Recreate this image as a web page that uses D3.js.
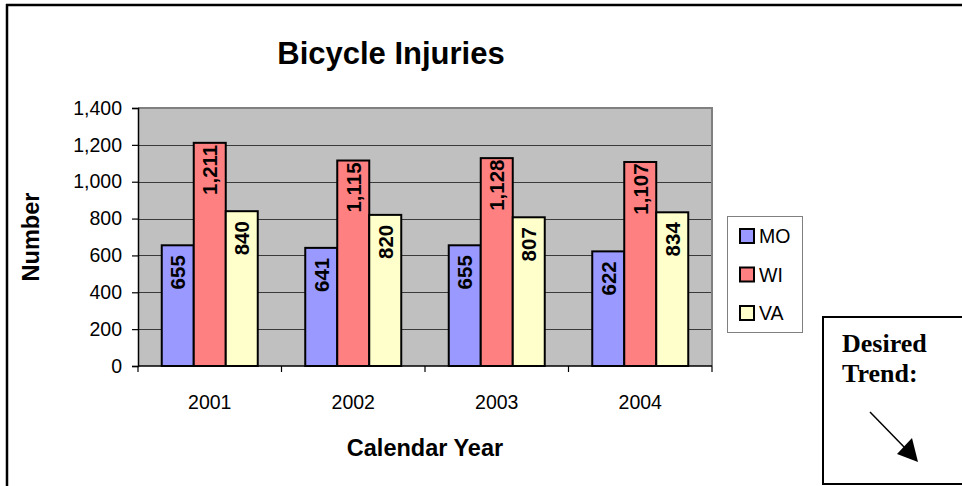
<!DOCTYPE html>
<html><head><meta charset="utf-8">
<script src="https://cdn.jsdelivr.net/npm/d3@7"></script>
<style>
html,body{margin:0;padding:0;background:#fff;}
svg{display:block;font-family:"Liberation Sans",Arial,sans-serif;}
.serif{font-family:"Liberation Serif","Times New Roman",serif;}
</style></head>
<body>
<svg id="chart" width="962" height="486"></svg>
<script>
const categories = ["2001","2002","2003","2004"];
const seriesNames = ["MO","WI","VA"];
const moValues = [655,641,655,622];
const wiValues = [1211,1115,1128,1107];
const vaValues = [840,820,807,834];
const yTicks = [0,200,400,600,800,1000,1200,1400];
const colors = ["#9999FF","#FF8080","#FFFFCC"];
const seriesValues = [moValues, wiValues, vaValues];

const svg = d3.select("#chart");
const plot = {left:138, right:712, top:108, bottom:366};

const x = d3.scaleBand().domain(categories).range([plot.left, plot.right]).paddingInner(0.331).paddingOuter(0.1655);
const xAll = d3.scaleBand().domain(categories).range([plot.left, plot.right]).padding(0);
const xs = d3.scaleBand().domain(seriesNames).range([0, x.bandwidth()]);
const y = d3.scaleLinear().domain([0,1400]).range([plot.bottom, plot.top]);

// outer frame lines
svg.append("line").attr("x1",6).attr("x2",962).attr("y1",5).attr("y2",5).attr("stroke","#000").attr("stroke-width",2.5);
svg.append("line").attr("x1",7).attr("x2",7).attr("y1",4).attr("y2",486).attr("stroke","#000").attr("stroke-width",2.5);

// plot area background
svg.append("rect").attr("x",plot.left).attr("y",plot.top).attr("width",plot.right-plot.left).attr("height",plot.bottom-plot.top).attr("fill","#C0C0C0");

// gridlines
svg.append("g").selectAll("line").data(yTicks.filter(d=>d>0 && d<1400)).join("line")
  .attr("x1",plot.left).attr("x2",plot.right).attr("y1",d=>Math.round(y(d))+0.5).attr("y2",d=>Math.round(y(d))+0.5)
  .attr("stroke","#3a3a3a").attr("stroke-width",1);

// plot border top/right (gray)
svg.append("path").attr("d",`M${plot.left},${plot.top}H${plot.right}V${plot.bottom}`).attr("fill","none").attr("stroke","#808080").attr("stroke-width",2);

// bars
const groups = svg.append("g").selectAll("g").data(categories).join("g")
  .attr("transform",d=>`translate(${x(d)},0)`);
groups.selectAll("rect").data((c,i)=>seriesNames.map((s,j)=>({s,j,v:seriesValues[j][i]}))).join("rect")
  .attr("x",d=>xs(d.s)).attr("width",xs.bandwidth())
  .attr("y",d=>y(d.v)).attr("height",d=>y(0)-y(d.v))
  .attr("fill",d=>colors[d.j]).attr("stroke","#000").attr("stroke-width",2);
groups.selectAll("text").data((c,i)=>seriesNames.map((s,j)=>({s,j,v:seriesValues[j][i]}))).join("text")
  .attr("transform",d=>`translate(${xs(d.s)+xs.bandwidth()/2},${y(d.v)+27}) rotate(-90)`)
  .attr("text-anchor","middle").attr("dominant-baseline","central")
  .attr("font-weight","bold").attr("font-size",20.5).attr("fill","#000")
  .text(d=>d3.format(",")(d.v));

// y axis
const yAxis = svg.append("g").attr("transform",`translate(${plot.left},0)`)
  .call(d3.axisLeft(y).tickValues(yTicks).tickFormat(d3.format(",")).tickSize(6).tickPadding(10));
yAxis.select(".domain").attr("stroke","#000").attr("stroke-width",1.5);
yAxis.selectAll(".tick line").attr("stroke","#000").attr("stroke-width",1.2);
yAxis.selectAll("text").attr("font-size",19.5).attr("fill","#000").style("font-family","Liberation Sans, Arial, sans-serif");

// x axis
const xAxisG = svg.append("g").attr("transform",`translate(0,${plot.bottom})`);
xAxisG.append("line").attr("x1",plot.left).attr("x2",plot.right).attr("y1",0).attr("y2",0).attr("stroke","#000").attr("stroke-width",1.5);
const bounds = categories.map(c=>xAll(c)).concat([plot.right]);
xAxisG.selectAll("line.tk").data(bounds).join("line").attr("class","tk")
  .attr("x1",d=>d).attr("x2",d=>d).attr("y1",0).attr("y2",6).attr("stroke","#000").attr("stroke-width",1.2);
xAxisG.selectAll("text").data(categories).join("text")
  .attr("x",d=>xAll(d)+xAll.bandwidth()/2).attr("y",43)
  .attr("text-anchor","middle").attr("font-size",19.5).attr("fill","#000").text(d=>d);

// titles
svg.append("text").attr("x",391).attr("y",64).attr("text-anchor","middle")
  .attr("font-weight","bold").attr("font-size",31).text("Bicycle Injuries");
svg.append("text").attr("x",(plot.left+plot.right)/2).attr("y",456).attr("text-anchor","middle")
  .attr("font-weight","bold").attr("font-size",23.5).text("Calendar Year");
svg.append("text").attr("transform",`translate(39,${(plot.top+plot.bottom)/2}) rotate(-90)`).attr("text-anchor","middle")
  .attr("font-weight","bold").attr("font-size",23.5).text("Number");

// legend
const lg = svg.append("g");
lg.append("rect").attr("x",727.5).attr("y",216.5).attr("width",75).attr("height",116).attr("fill","#fff").attr("stroke","#808080").attr("stroke-width",1);
const li = lg.selectAll("g").data(seriesNames).join("g").attr("transform",(d,i)=>`translate(0,${236+i*38.5})`);
li.append("rect").attr("x",740).attr("y",-7).attr("width",14).attr("height",14)
  .attr("fill",(d,i)=>colors[i]).attr("stroke","#000").attr("stroke-width",2);
li.append("text").attr("x",759).attr("y",0).attr("dominant-baseline","central").attr("font-size",19.5).text(d=>d);

// desired trend box
const tb = svg.append("g");
tb.append("rect").attr("x",823).attr("y",317).attr("width",160).attr("height",167).attr("fill","#fff").attr("stroke","#000").attr("stroke-width",2);
tb.append("text").attr("class","serif").attr("x",842).attr("y",352).attr("font-weight","bold").attr("font-size",26).text("Desired");
tb.append("text").attr("class","serif").attr("x",842).attr("y",382).attr("font-weight","bold").attr("font-size",26).text("Trend:");
tb.append("line").attr("x1",870).attr("y1",412).attr("x2",906).attr("y2",449).attr("stroke","#000").attr("stroke-width",1.5);
tb.append("path").attr("d","M918,462L897,454L912,438Z").attr("fill","#000");
</script>
</body></html>
